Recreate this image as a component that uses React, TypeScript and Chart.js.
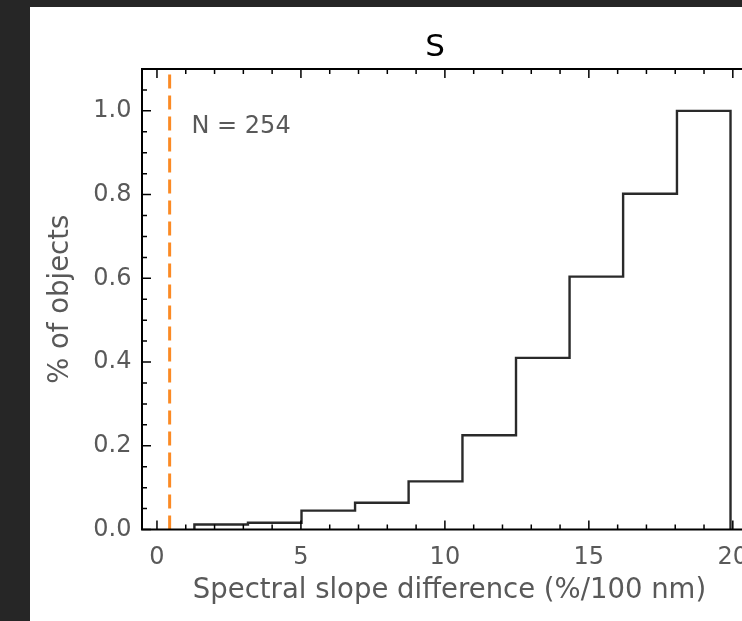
import React, { useEffect, useRef } from 'react';
import { Chart, registerables } from 'chart.js';

Chart.register(...registerables);

// ---- data ----
const binEdges = [1.3, 3.16, 5.02, 6.88, 8.74, 10.61, 12.47, 14.33, 16.19, 18.06, 19.92];
const binFractions = [0.012, 0.016, 0.045, 0.064, 0.115, 0.225, 0.41, 0.604, 0.802, 1.0];
const referenceSlope = 0.44;
const xTickValues = [0, 5, 10, 15, 20];
const yTickValues = [0, 0.2, 0.4, 0.6, 0.8, 1.0];
const titleText = 'S';
const xAxisLabel = 'Spectral slope difference (%/100 nm)';
const yAxisLabel = '% of objects';
const annotationText = 'N = 254';
const annotationPos = { x: 1.2, y: 0.962 };

const FONT = '"DejaVu Sans", "Liberation Sans", sans-serif';
const TEXT_GRAY = '#595959';

const framePlugin = {
  id: 'mplFrame',
  afterDatasetsDraw(chart: any) {
    const { ctx, chartArea, scales } = chart;
    const { left, right, top, bottom } = chartArea;
    const x = scales.x;
    const y = scales.y;
    ctx.save();
    ctx.strokeStyle = '#000000';
    ctx.lineWidth = 1.5;
    // x ticks (inward, bottom & top), minor every 1, major every 5
    for (let k = -1; k <= 25; k++) {
      const px = x.getPixelForValue(k);
      if (px < left - 0.5 || px > right + 0.5) continue;
      const len = k % 5 === 0 ? 9 : 5;
      ctx.beginPath();
      ctx.moveTo(px, bottom);
      ctx.lineTo(px, bottom - len);
      ctx.moveTo(px, top);
      ctx.lineTo(px, top + len);
      ctx.stroke();
    }
    // y ticks (inward, left & right), minor every 0.05, major every 0.2
    for (let k = 0; k <= 22; k++) {
      const py = y.getPixelForValue(k * 0.05);
      if (py < top - 0.5 || py > bottom + 0.5) continue;
      const len = k % 4 === 0 ? 9 : 5;
      ctx.beginPath();
      ctx.moveTo(left, py);
      ctx.lineTo(left + len, py);
      ctx.moveTo(right, py);
      ctx.lineTo(right - len, py);
      ctx.stroke();
    }
    // spines
    ctx.lineWidth = 2;
    ctx.strokeRect(left, top, right - left, bottom - top);

    // annotation
    ctx.fillStyle = TEXT_GRAY;
    ctx.font = `24px ${FONT}`;
    ctx.textAlign = 'left';
    ctx.textBaseline = 'middle';
    ctx.fillText(annotationText, x.getPixelForValue(annotationPos.x), y.getPixelForValue(annotationPos.y));

    // title
    ctx.fillStyle = '#000000';
    ctx.font = `31px ${FONT}`;
    ctx.textAlign = 'center';
    ctx.textBaseline = 'alphabetic';
    ctx.fillText(titleText, 405, 49);
    ctx.restore();
  },
};

export default function App() {
  const canvasRef = useRef<HTMLCanvasElement | null>(null);

  useEffect(() => {
    const canvas = canvasRef.current;
    if (!canvas) return;

    const stepPoints: { x: number; y: number }[] = [{ x: binEdges[0], y: 0 }];
    binFractions.forEach((v, i) => stepPoints.push({ x: binEdges[i], y: v }));
    stepPoints.push({ x: binEdges[binEdges.length - 1], y: 0 });

    const chart = new Chart(canvas, {
      type: 'line',
      data: {
        datasets: [
          {
            label: 'reference',
            data: [
              { x: referenceSlope, y: 0 },
              { x: referenceSlope, y: 1.1 },
            ],
            borderColor: '#fb8a24',
            borderWidth: 3,
            borderDash: [14, 7],
            pointRadius: 0,
            fill: false,
          },
          {
            label: 'histogram',
            data: stepPoints,
            borderColor: '#2a2a2a',
            borderWidth: 2.4,
            stepped: 'before',
            pointRadius: 0,
            fill: false,
          },
        ],
      },
      options: {
        animation: false,
        responsive: false,
        events: [],
        layout: { padding: { top: 62, left: 0, right: 83, bottom: 0 } },
        plugins: {
          legend: { display: false },
          tooltip: { enabled: false },
          title: { display: false },
        },
        scales: {
          x: {
            type: 'linear',
            min: -0.52,
            max: 20.84,
            grid: { display: false, drawTicks: false },
            border: { display: false },
            afterBuildTicks: (s: any) => {
              s.ticks = xTickValues.map((v) => ({ value: v }));
            },
            afterFit: (s: any) => {
              s.height = 91.5;
            },
            ticks: {
              color: TEXT_GRAY,
              font: { family: FONT, size: 24 },
              padding: 14,
              maxRotation: 0,
              autoSkip: false,
              callback: (v: any) => String(v),
            },
            title: {
              display: true,
              text: xAxisLabel,
              color: TEXT_GRAY,
              font: { family: FONT, size: 27.5 },
              padding: { top: 0, bottom: 14 },
            },
          },
          y: {
            type: 'linear',
            min: 0,
            max: 1.1,
            grid: { display: false, drawTicks: false },
            border: { display: false },
            afterBuildTicks: (s: any) => {
              s.ticks = yTickValues.map((v) => ({ value: v }));
            },
            afterFit: (s: any) => {
              s.width = 112;
            },
            ticks: {
              color: TEXT_GRAY,
              font: { family: FONT, size: 24 },
              padding: 10.5,
              autoSkip: false,
              callback: (v: any) => Number(v).toFixed(1),
            },
            title: {
              display: true,
              text: yAxisLabel,
              color: TEXT_GRAY,
              font: { family: FONT, size: 27.5 },
              padding: { top: 14.5, bottom: 0 },
            },
          },
        },
      },
      plugins: [framePlugin],
    } as any);

    return () => chart.destroy();
  }, []);

  return (
    <div
      style={{
        position: 'fixed',
        left: 0,
        top: 0,
        width: 742,
        height: 621,
        overflow: 'hidden',
        background: '#262626',
      }}
    >
      <div
        style={{
          position: 'absolute',
          left: 30,
          top: 7,
          width: 810,
          height: 614,
          background: '#ffffff',
        }}
      >
        <canvas ref={canvasRef} width={810} height={614} style={{ width: 810, height: 614, display: 'block' }} />
      </div>
    </div>
  );
}
